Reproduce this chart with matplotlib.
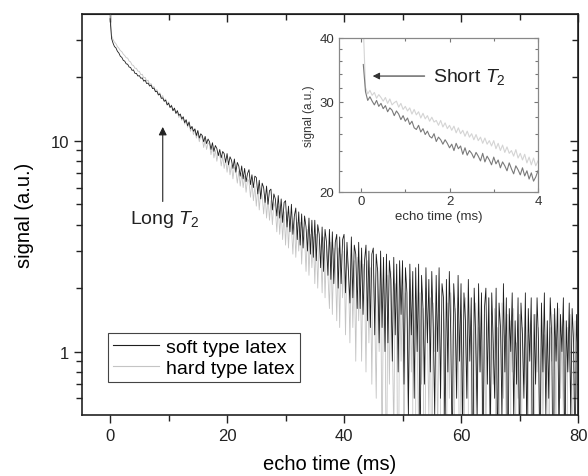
import numpy as np
import matplotlib
matplotlib.use("Agg")
from matplotlib import pyplot as plt
from matplotlib.ticker import FixedLocator, NullFormatter, FixedFormatter
from matplotlib.lines import Line2D

plt.rcParams['font.family'] = ['Liberation Sans', 'DejaVu Sans']
plt.rcParams['mathtext.fontset'] = 'custom'
plt.rcParams['mathtext.it'] = 'Liberation Sans:italic'
plt.rcParams['mathtext.rm'] = 'Liberation Sans'

# echo times (ms) of the full decay, one sample every 0.25 ms
t = np.arange(0, 80.01, 0.25)
soft = [
    38.0, 30.6, 29.1, 28.0, 27.6, 26.6, 26.1, 25.2, 24.9, 24.1,
    23.9, 23.2, 23.1, 22.4, 22.3, 21.6, 21.7, 20.9, 20.9, 20.3,
    20.4, 19.8, 19.9, 19.2, 19.4, 18.7, 18.8, 18.2, 18.4, 17.7,
    17.8, 17.1, 17.2, 16.5, 16.7, 15.9, 16.0, 15.4, 15.6, 14.8,
    15.1, 14.4, 14.7, 13.9, 14.3, 13.5, 13.9, 13.2, 13.4, 12.7,
    13.0, 12.2, 12.6, 11.8, 12.3, 11.4, 11.7, 11.1, 11.4, 10.6,
    11.2, 10.3, 10.8, 10.6, 9.9, 10.5, 9.7, 10.2, 9.9, 9.1,
    9.8, 8.9, 9.5, 9.2, 8.5, 9.1, 8.3, 8.9, 8.7, 7.9,
    8.7, 7.7, 8.4, 8.1, 7.4, 8.2, 7.1, 7.9, 7.6, 6.8,
    7.6, 6.6, 7.4, 6.4, 7.0, 7.3, 6.2, 6.9, 6.0, 6.8,
    6.7, 5.6, 6.5, 5.3, 6.3, 6.0, 5.1, 6.1, 5.0, 5.8,
    5.9, 4.7, 5.6, 5.3, 4.4, 5.5, 4.3, 5.3, 4.1, 5.1,
    5.2, 3.9, 4.9, 3.7, 5.0, 3.6, 4.4, 4.8, 3.4, 4.6,
    3.2, 4.5, 3.1, 4.4, 3.9, 3.0, 4.3, 2.9, 4.2, 2.8,
    4.2, 2.7, 4.0, 3.6, 2.5, 3.9, 2.4, 3.8, 3.3, 2.3,
    3.8, 2.2, 3.7, 2.1, 3.3, 3.6, 2.0, 3.5, 2.1, 3.4,
    3.6, 1.9, 3.3, 2.4, 1.7, 3.5, 1.8, 3.2, 2.9, 1.6,
    3.3, 1.6, 3.1, 1.5, 2.7, 3.2, 1.4, 3.0, 1.3, 2.9,
    3.1, 1.2, 2.9, 2.4, 1.1, 3.0, 1.3, 2.8, 1.0, 2.9,
    1.1, 2.7, 2.2, 0.9, 2.8, 1.2, 2.6, 0.8, 2.7, 1.5,
    2.7, 0.7, 2.5, 1.9, 0.5, 2.6, 1.2, 2.4, 0.6, 2.5,
    1.0, 2.6, 0.3, 2.3, 1.6, 0.7, 2.5, 1.1, 2.2, 0.8,
    2.4, 1.3, 0.5, 2.3, 1.0, 2.5, 0.6, 2.1, 1.8, 0.4,
    2.2, 0.8, 2.4, 1.2, 0.3, 2.1, 1.5, 0.6, 2.3, 0.9,
    2.1, 0.4, 1.9, 1.4, 0.6, 2.2, 0.9, 1.8, 0.2, 2.0,
    1.2, 0.5, 2.1, 0.8, 1.9, 0.3, 1.6, 2.0, 0.7, 1.8,
    0.4, 1.9, 1.1, 0.6, 2.0, 0.3, 1.7, 1.3, 0.5, 2.1,
    0.8, 1.8, 0.2, 1.6, 1.0, 1.9, 0.5, 1.4, 0.7, 1.8,
    0.3, 1.7, 1.2, 0.6, 1.9, 0.4, 1.6, 0.9, 1.8, 0.2,
    1.5, 0.7, 1.8, 1.1, 0.3, 1.7, 0.8, 1.9, 0.5, 1.4,
    0.6, 1.8, 1.2, 0.2, 1.6, 0.9, 1.7, 0.4, 1.5, 1.0,
    1.8, 0.3, 1.4, 0.8, 1.7, 0.5, 1.6, 1.1, 0.3, 1.5,
    0.9,
]
hard = [
    45.0, 31.6, 30.3, 29.4, 28.9, 28.0, 27.5, 26.8, 26.5, 25.8,
    25.4, 24.8, 24.7, 23.9, 23.7, 22.9, 22.8, 22.1, 22.1, 21.4,
    21.4, 20.6, 20.7, 19.9, 20.0, 19.2, 19.4, 18.5, 18.7, 17.9,
    18.1, 17.3, 17.5, 16.7, 16.9, 16.1, 16.4, 15.5, 15.8, 15.0,
    15.3, 14.4, 14.8, 13.9, 14.3, 13.5, 13.9, 12.9, 13.4, 12.5,
    13.0, 12.0, 12.5, 11.6, 12.1, 11.1, 11.7, 10.7, 11.3, 10.3,
    10.9, 9.9, 10.6, 10.3, 9.3, 10.1, 9.1, 9.8, 9.6, 8.6,
    9.4, 8.3, 9.0, 8.0, 8.8, 8.6, 7.6, 8.5, 7.4, 8.2,
    7.1, 8.0, 6.9, 7.7, 6.6, 7.5, 7.2, 6.3, 7.2, 6.1,
    7.0, 6.0, 6.8, 5.7, 6.6, 6.4, 5.4, 6.4, 5.2, 6.1,
    4.9, 6.0, 4.7, 5.8, 5.5, 4.5, 5.6, 4.3, 5.4, 4.2,
    5.2, 4.0, 5.1, 4.8, 3.7, 4.9, 3.6, 4.7, 3.4, 4.6,
    3.2, 4.6, 3.1, 4.4, 3.9, 2.9, 4.3, 2.8, 4.1, 3.0,
    4.1, 2.6, 3.9, 3.5, 2.4, 3.8, 2.3, 3.6, 2.5, 3.5,
    2.1, 3.6, 2.0, 3.4, 3.1, 1.9, 3.5, 1.8, 3.2, 2.3,
    1.6, 3.3, 1.5, 3.1, 2.7, 1.4, 3.1, 1.3, 2.9, 1.8,
    3.0, 1.2, 2.9, 2.4, 1.1, 2.9, 1.3, 2.7, 0.9, 2.8,
    1.4, 2.7, 0.9, 2.6, 2.2, 0.8, 2.7, 1.1, 2.5, 0.7,
    2.6, 1.5, 0.6, 2.5, 1.0, 2.4, 0.3, 2.2, 1.7, 0.2,
    2.3, 0.7, 2.4, 1.2, 0.4, 2.1, 1.5, 0.1, 2.2, 0.9,
    2.0, 0.3, 1.9, 1.4, 0.5, 2.2, 0.8, 1.8, 0.0, 2.0,
    1.1, 0.4, 1.9, 0.7, 1.6, 0.1, 2.0, 1.2, 0.5, 1.8,
    0.2, 1.7, 1.0, 1.9, 0.4, 1.5, 0.8, 0.0, 1.8, 1.1,
    0.3, 1.7, 0.6, 1.9, 1.2, 0.1, 1.6, 0.8, 1.8, 0.2,
    1.5, 0.9, 0.3, 1.8, 0.6, 1.6, 0.0, 1.4, 1.0, 0.2,
    1.7, 0.5, 1.3, 0.8, 1.6, 0.1, 1.5, 0.4, 1.2, 1.8,
    0.3, 1.4, 0.7, 1.6, 0.2, 1.3, 0.9, 0.1, 1.7, 0.6,
    1.2, 0.4, 1.5, 0.0, 1.4, 0.8, 1.6, 0.3, 1.1, 0.6,
    1.5, 0.2, 1.3, 0.7, 1.6, 0.4, 1.2, 0.0, 1.4, 0.9,
    0.3, 1.5, 0.8, 1.3, 0.1, 1.6, 0.5, 1.2, 0.7, 1.4,
    0.2, 1.3, 0.9, 1.5, 0.4, 1.1, 0.0, 1.6, 0.6, 1.2,
    0.5, 1.4, 0.1, 1.3, 0.8, 1.5, 0.3, 1.0, 1.4, 0.6,
    1.2,
]

# first 4 ms, finer sampling (inset)
t_in = np.arange(0.05, 4.01, 0.05)
soft_in = [
    35.5, 31.4, 30.2, 30.7, 30.1, 29.6, 30.2, 29.4, 29.8, 29.1,
    29.5, 28.7, 29.2, 28.9, 28.2, 28.8, 28.4, 27.7, 28.2, 27.5,
    27.9, 27.1, 27.5, 26.7, 26.5, 27.0, 26.2, 26.6, 25.9, 26.3,
    25.7, 25.5, 26.0, 25.1, 25.6, 25.3, 24.8, 25.3, 24.9, 24.4,
    24.8, 24.1, 24.9, 24.3, 24.6, 23.7, 24.4, 23.6, 24.1, 23.8,
    23.3, 23.9, 23.5, 23.0, 23.8, 22.9, 23.5, 23.1, 22.6, 23.4,
    22.7, 23.1, 22.3, 22.9, 22.5, 22.0, 22.8, 22.2, 21.7, 22.5,
    22.1, 21.6, 22.3, 21.5, 22.0, 21.2, 21.8, 21.0, 21.4, 22.0,
]
hard_in = [
    42.0, 32.0, 31.1, 31.6, 30.9, 31.3, 30.5, 31.0, 30.6, 30.1,
    30.6, 29.8, 30.4, 29.6, 29.9, 30.1, 29.3, 29.8, 29.0, 29.4,
    28.8, 29.2, 28.4, 29.0, 28.3, 28.7, 27.9, 28.5, 27.8, 28.2,
    27.5, 28.0, 27.4, 27.6, 27.0, 27.6, 26.8, 27.3, 26.6, 27.0,
    26.4, 26.9, 26.1, 26.7, 26.0, 26.4, 25.7, 26.3, 25.6, 26.0,
    25.3, 25.9, 25.2, 25.6, 24.9, 25.5, 24.8, 25.2, 24.6, 25.2,
    24.3, 24.9, 24.1, 24.7, 23.9, 24.5, 23.8, 24.1, 23.5, 24.2,
    23.3, 23.8, 23.1, 23.7, 22.8, 23.4, 22.6, 23.3, 22.5, 23.0,
]

fig = plt.figure(figsize=(5.88, 4.77), dpi=100)
ax = fig.add_axes([0.1395, 0.1279, 0.8435, 0.8407])

ax.plot(t, hard, color="#c4c4c4", lw=0.6)
ax.plot(t, soft, color="#1e1e1e", lw=0.6)
ax.set_yscale("log")
ax.set_xlim(-4.8, 80)
ax.set_ylim(0.5, 40)

ax.xaxis.set_major_locator(FixedLocator([0, 20, 40, 60, 80]))
ax.xaxis.set_minor_locator(FixedLocator([10, 30, 50, 70]))
ax.yaxis.set_major_locator(FixedLocator([1, 10]))
ax.yaxis.set_major_formatter(FixedFormatter(["1", "10"]))
yminor = [0.6, 0.7, 0.8, 0.9, 2, 3, 4, 5, 6, 7, 8, 9, 20, 30]
ax.yaxis.set_minor_locator(FixedLocator(yminor))
ax.yaxis.set_minor_formatter(NullFormatter())
ax.tick_params(which="major", direction="out", length=6, width=1, labelsize=12, colors="#222222")
ax.tick_params(which="minor", direction="out", length=4, width=1, colors="#222222")
for s in ax.spines.values():
    s.set_linewidth(1.2)
    s.set_color("#222222")

# inward ticks on top and right
top = ax.secondary_xaxis("top")
top.xaxis.set_major_locator(FixedLocator([0, 20, 40, 60, 80]))
top.xaxis.set_minor_locator(FixedLocator([10, 30, 50, 70]))
top.xaxis.set_major_formatter(NullFormatter())
top.tick_params(which="both", direction="in", length=6, width=1, colors="#222222")
top.tick_params(which="minor", length=4)
right = ax.secondary_yaxis("right")
right.yaxis.set_major_locator(FixedLocator([1, 10]))
right.yaxis.set_minor_locator(FixedLocator(yminor))
right.yaxis.set_major_formatter(NullFormatter())
right.yaxis.set_minor_formatter(NullFormatter())
right.tick_params(which="both", direction="in", length=6, width=1, colors="#222222")
right.tick_params(which="minor", length=4)

ax.set_xlabel("echo time (ms)", fontsize=14.5, labelpad=8)
ax.set_ylabel("signal (a.u.)", fontsize=14.5, labelpad=12)

ax.annotate("", xy=(9, 12), xytext=(9, 5.0),
            arrowprops=dict(arrowstyle="-|>", color="#222222", lw=0.8, mutation_scale=12))
ax.text(9.3, 4.3, "Long $T_2$", fontsize=14, ha="center", va="center", color="#222222")

handles = [Line2D([], [], color="#1e1e1e", lw=0.8), Line2D([], [], color="#c4c4c4", lw=0.8)]
leg = ax.legend(handles, ["soft type latex", "hard type latex"], loc="lower left",
                bbox_to_anchor=(0.052, 0.082), borderaxespad=0, fontsize=14,
                handlelength=2.4, handletextpad=0.35, labelspacing=0.2,
                borderpad=0.25, fancybox=False, framealpha=1)
leg.get_frame().set_edgecolor("#444444")
leg.get_frame().set_linewidth(0.8)

# inset
axin = fig.add_axes([0.5765, 0.5954, 0.3384, 0.3229])
axin.plot(t_in, hard_in, color="#d4d4d4", lw=0.8)
axin.plot(t_in, soft_in, color="#7a7a7a", lw=0.8)
axin.set_yscale("log")
axin.set_xlim(-0.5, 4)
axin.set_ylim(20, 40)
axin.xaxis.set_major_locator(FixedLocator([0, 2, 4]))
axin.xaxis.set_minor_locator(FixedLocator([1, 3]))
axin.yaxis.set_major_locator(FixedLocator([20, 30, 40]))
axin.yaxis.set_major_formatter(FixedFormatter(["20", "30", "40"]))
axin.yaxis.set_minor_locator(FixedLocator([22, 24, 26, 28, 32, 34, 36, 38]))
axin.yaxis.set_minor_formatter(NullFormatter())
axin.tick_params(which="both", direction="in", top=True, right=True,
                 length=3, width=0.8, colors="#777777", labelsize=9.5, labelcolor="#333333")
axin.tick_params(which="minor", length=2)
axin.tick_params(axis="x", pad=2)
for s in axin.spines.values():
    s.set_linewidth(0.9)
    s.set_color("#888888")
axin.set_xlabel("echo time (ms)", fontsize=9.5, color="#333333", labelpad=2)
axin.set_ylabel("signal (a.u.)", fontsize=8.5, color="#333333", labelpad=3)
axin.annotate("", xy=(0.2, 33.7), xytext=(1.5, 33.7),
              arrowprops=dict(arrowstyle="-|>", color="#333333", lw=0.8, mutation_scale=10))
axin.text(1.62, 33.7, "Short $T_2$", fontsize=14, ha="left", va="center", color="#222222")

fig.savefig("out.png", dpi=100)
